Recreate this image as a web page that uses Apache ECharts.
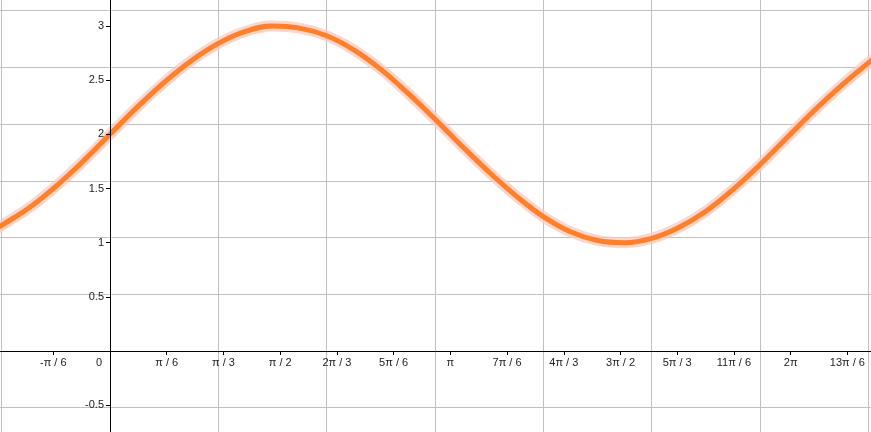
<!DOCTYPE html>
<html>
<head>
<meta charset="utf-8">
<script src="https://cdn.jsdelivr.net/npm/echarts@6/dist/echarts.min.js"></script>
<style>
html,body{margin:0;padding:0;background:#fff;}
#chart{width:871px;height:432px;}
</style>
</head>
<body>
<div id="chart"></div>
<script>
// Curve samples (x in radians, y value)
var curveX = [-1.05, -1.0, -0.75, -0.5, -0.25, 0, 0.25, 0.5, 0.75, 1.0, 1.25, 1.5, 1.75, 2.0, 2.25, 2.5, 2.75, 3.0, 3.25, 3.5, 3.75, 4.0, 4.25, 4.5, 4.75, 5.0, 5.25, 5.5, 5.75, 6.0, 6.25, 6.5, 6.75, 7.0, 7.1];
var curveY = [1.13, 1.16, 1.32, 1.52, 1.75, 2.00, 2.25, 2.48, 2.68, 2.84, 2.95, 3.00, 2.98, 2.91, 2.78, 2.60, 2.38, 2.14, 1.89, 1.65, 1.43, 1.24, 1.10, 1.02, 1.00, 1.04, 1.14, 1.29, 1.49, 1.72, 1.97, 2.22, 2.45, 2.66, 2.73];

// x-axis ticks (multiples of pi/6) and their labels
var xTickMultiples = [-1, 0, 1, 2, 3, 4, 5, 6, 7, 8, 9, 10, 11, 12, 13];
var xTickLabels = ['-π / 6', '0', 'π / 6', 'π / 3', 'π / 2', '2π / 3', '5π / 6', 'π', '7π / 6', '4π / 3', '3π / 2', '5π / 3', '11π / 6', '2π', '13π / 6'];
// y-axis ticks
var yTicks = [-0.5, 0.5, 1, 1.5, 2, 2.5, 3];
// grid lines: vertical at integers, horizontal at multiples of pi/6
var xGridValues = [-1, 0, 1, 2, 3, 4, 5, 6, 7];
var yGridMultiples = [-1, 0, 1, 2, 3, 4, 5, 6];

var X_MIN = -1.0154, X_MAX = 7.0246, Y_MIN = -0.748, Y_MAX = 3.240;
var STEP = Math.PI / 6;
var W = 871, H = 432;

var xTickValues = xTickMultiples.map(function (k) { return k * STEP; });
var yGridValues = yGridMultiples.map(function (k) { return k * STEP; });

function labelFor(v) {
  for (var i = 0; i < xTickValues.length; i++) {
    if (Math.abs(xTickValues[i] - v) < 1e-4) return xTickLabels[i];
  }
  return '';
}

var data = curveX.map(function (x, i) { return [x, curveY[i]]; });

var FONT = 'Liberation Sans, Arial, sans-serif';
var TXT = '#222';

// pixel offsets of the axis lines from the grid edges (derived from the value ranges)
var xAxisOffset = -Math.round(H * (0 - Y_MIN) / (Y_MAX - Y_MIN));
var yAxisOffset = -Math.round(W * (0 - X_MIN) / (X_MAX - X_MIN));

var chart = echarts.init(document.getElementById('chart'), null, { renderer: 'canvas' });
chart.setOption({
  animation: false,
  backgroundColor: '#fff',
  grid: { left: 0, right: 0, top: 0, bottom: 0, containLabel: false, outerBoundsMode: 'none' },
  xAxis: [
    {
      type: 'value', min: X_MIN, max: X_MAX, z: 5, position: 'bottom', offset: xAxisOffset,
      axisLine: { show: true, onZero: false, lineStyle: { color: '#000', width: 1 } },
      axisTick: { show: true, customValues: xTickValues, length: 4, lineStyle: { color: '#000' } },
      axisLabel: {
        show: true, customValues: xTickValues, margin: 6,
        color: TXT, fontSize: 11, fontFamily: FONT,
        showMinLabel: true, showMaxLabel: true, hideOverlap: false,
        formatter: function (v) {
          var s = labelFor(v);
          if (s === '0') return '{z|0}';
          return s;
        },
        rich: { z: { padding: [0, 22, 0, 0], color: TXT, fontSize: 11, fontFamily: FONT } }
      },
      splitLine: { show: false }
    },
    {
      type: 'value', min: X_MIN, max: X_MAX, position: 'top', z: 1,
      axisLine: { show: false, onZero: false },
      axisTick: { show: false, customValues: xGridValues },
      axisLabel: { show: false },
      splitLine: { show: true, lineStyle: { color: '#c0c0c0', width: 1 } }
    }
  ],
  yAxis: [
    {
      type: 'value', min: Y_MIN, max: Y_MAX, z: 5, position: 'left', offset: yAxisOffset,
      axisLine: { show: true, onZero: false, lineStyle: { color: '#000', width: 1 } },
      axisTick: { show: true, customValues: yTicks, length: 4, lineStyle: { color: '#000' } },
      axisLabel: {
        show: true, customValues: yTicks, margin: 6, hideOverlap: false,
        color: TXT, fontSize: 11, fontFamily: FONT
      },
      splitLine: { show: false }
    },
    {
      type: 'value', min: Y_MIN, max: Y_MAX, position: 'right', z: 1,
      axisLine: { show: false, onZero: false },
      axisTick: { show: false, customValues: yGridValues },
      axisLabel: { show: false },
      splitLine: { show: true, lineStyle: { color: '#c0c0c0', width: 1 } }
    }
  ],
  series: [
    {
      type: 'line', xAxisIndex: 0, yAxisIndex: 0, data: data, smooth: 0.4,
      symbol: 'none', silent: true, z: 3,
      lineStyle: { color: 'rgba(255,200,185,0.75)', width: 11, cap: 'round' }
    },
    {
      type: 'line', xAxisIndex: 0, yAxisIndex: 0, data: data, smooth: 0.4,
      symbol: 'none', silent: true, z: 4,
      lineStyle: { color: '#ff7f2a', width: 5, cap: 'round' }
    }
  ]
});
</script>
</body>
</html>
